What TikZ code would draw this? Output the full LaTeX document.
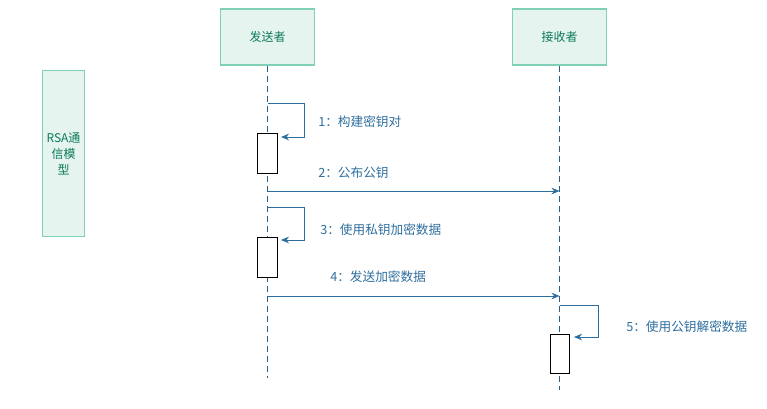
\documentclass[tikz,border=0pt]{standalone}
\usepackage{fontspec}
\setmainfont{Noto Sans CJK SC}
\usepackage{xcolor}
\usepackage{tikz}
\usetikzlibrary{arrows.meta}

\definecolor{boxfill}{HTML}{E6F4EF}
\definecolor{boxline}{HTML}{7FD0B4}
\definecolor{boxtext}{HTML}{0B7A5C}
\definecolor{msgblue}{HTML}{2E6E9E}
\definecolor{lifeblue}{HTML}{2F5E86}

\begin{document}
\begin{tikzpicture}[x=0.75pt,y=-0.75pt,
  actor/.style={draw=boxline, fill=boxfill, line width=0.8pt, text=boxtext, font=\fontsize{9}{11}\selectfont, minimum width=71pt, minimum height=42pt, inner sep=0pt},
  note/.style={actor, minimum width=32pt, minimum height=124pt, align=center, font=\fontsize{9}{12}\selectfont},
  life/.style={lifeblue, line width=0.6pt, dash pattern=on 4.5pt off 3pt},
  act/.style={draw=black, fill=white, line width=0.6pt, minimum width=14.5pt, minimum height=29.5pt, inner sep=0pt},
  msg/.style={msgblue, line width=0.7pt, -{Stealth[length=6pt,width=5pt]}},
  lbl/.style={text=msgblue, anchor=west, inner sep=0pt, font=\fontsize{9.5}{11}\selectfont}]
\useasboundingbox (0,0) rectangle (767,408);
% Actors
\node[note] (rsa) at (63.5,153.5) {RSA通\\信模\\型};
\node[actor] (snd) at (267.5,37) {发送者};
\node[actor] (rcv) at (559.5,37) {接收者};
% Lifelines
\coordinate (sndend) at (267.5,378);
\coordinate (rcvend) at (559.5,390);
\draw[life] (snd.south) -- (sndend);
\draw[life] (rcv.south) -- (rcvend);
% Activations
\node[act] (a1) at (267.5,153.5) {};
\node[act] (a2) at (267.5,257.5) {};
\node[act] (a3) at (560,354) {};
% Messages
\coordinate (m1) at (267.5,103);
\coordinate (m1t) at (281,137);
\draw[msg] (m1) -- (304,103) |- (m1t);
\node[lbl] (l1) at (318,122) {1：构建密钥对};
\coordinate (m2s) at (267.5,191);
\coordinate (m2e) at (559.5,191);
\draw[msg] (m2s) -- (m2e);
\node[lbl] (l2) at (318,173) {2：公布公钥};
\coordinate (m3) at (267.5,207);
\coordinate (m3t) at (281,240);
\draw[msg] (m3) -- (304,207) |- (m3t);
\node[lbl] (l3) at (320,230) {3：使用私钥加密数据};
\coordinate (m4s) at (267.5,296);
\coordinate (m4e) at (559.5,296);
\draw[msg] (m4s) -- (m4e);
\node[lbl] (l4) at (330,277) {4：发送加密数据};
\coordinate (m5) at (559.5,305);
\coordinate (m5t) at (574,337);
\draw[msg] (m5) -- (598,305) |- (m5t);
\node[lbl] (l5) at (626,327) {5：使用公钥解密数据};
\end{tikzpicture}
\end{document}
